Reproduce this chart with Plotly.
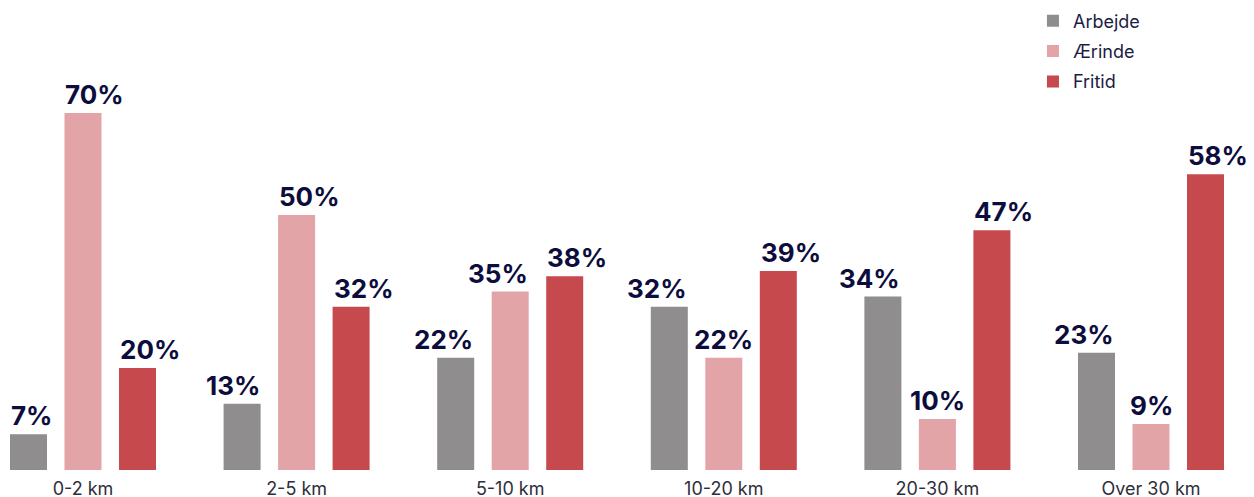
import plotly.graph_objects as go

categories = ["0-2 km", "2-5 km", "5-10 km", "10-20 km", "20-30 km", "Over 30 km"]
series_names = ["Arbejde", "Ærinde", "Fritid"]
arbejde = [7, 13, 22, 32, 34, 23]
aerinde = [70, 50, 35, 22, 10, 9]
fritid = [20, 32, 38, 39, 47, 58]
colors = ["#8f8d8e", "#e3a4a7", "#c6494e"]

# label alignment relative to each bar (style, as in the reference)
label_align = [
    ["left", "right", "right", "right", "right", "right"],
    ["left", "left", "right", "center", "center", "center"],
    ["left", "left", "left", "left", "left", "left"],
]

series = [arbejde, aerinde, fritid]
x_idx = list(range(len(categories)))

fig = go.Figure()
for name, vals, col in zip(series_names, series, colors):
    fig.add_trace(go.Bar(
        x=x_idx, y=vals, name=name, marker_color=col, marker_line_width=0,
        legendgroup=name,
    ))

bargap = 0.2345
bargroupgap = 0.321
slot = (1 - bargap) / len(series)
half_w = slot * (1 - bargroupgap) / 2
annotations = []
for i, vals in enumerate(series):
    off = (i - (len(series) - 1) / 2) * slot
    for j, (xi, v) in enumerate(zip(x_idx, vals)):
        al = label_align[i][j]
        xpos = xi + off + {"left": -half_w, "right": half_w, "center": 0}[al]
        annotations.append(dict(
            x=xpos, y=v, xref="x", yref="y", text=f"{v}%",
            showarrow=False, yanchor="bottom", xanchor=al, yshift=2,
            borderpad=0,
            font=dict(family="Inter", size=26, color="#0d0d3d", weight="bold"),
        ))

fig.update_layout(
    width=1246, height=497,
    margin=dict(l=0, r=0, t=0, b=35, autoexpand=False),
    barmode="group", bargap=bargap, bargroupgap=bargroupgap,
    plot_bgcolor="white", paper_bgcolor="white",
    font=dict(family="Inter", color="#1c1c44"),
    xaxis=dict(tickvals=x_idx, ticktext=categories, range=[-0.3511, 5.4822],
               showgrid=False, zeroline=False, showline=False, ticks="",
               automargin=False,
               tickfont=dict(size=18, color="#2e2e3a"), ticklabelstandoff=6),
    yaxis=dict(range=[0, 90.59], visible=False, showgrid=False, automargin=False),
    legend=dict(x=0.8226, y=1.012, xanchor="left", yanchor="top",
                font=dict(size=18, color="#1c1c44"), tracegroupgap=4,
                bgcolor="rgba(0,0,0,0)"),
    annotations=annotations,
)

fig.write_html("out.html")
